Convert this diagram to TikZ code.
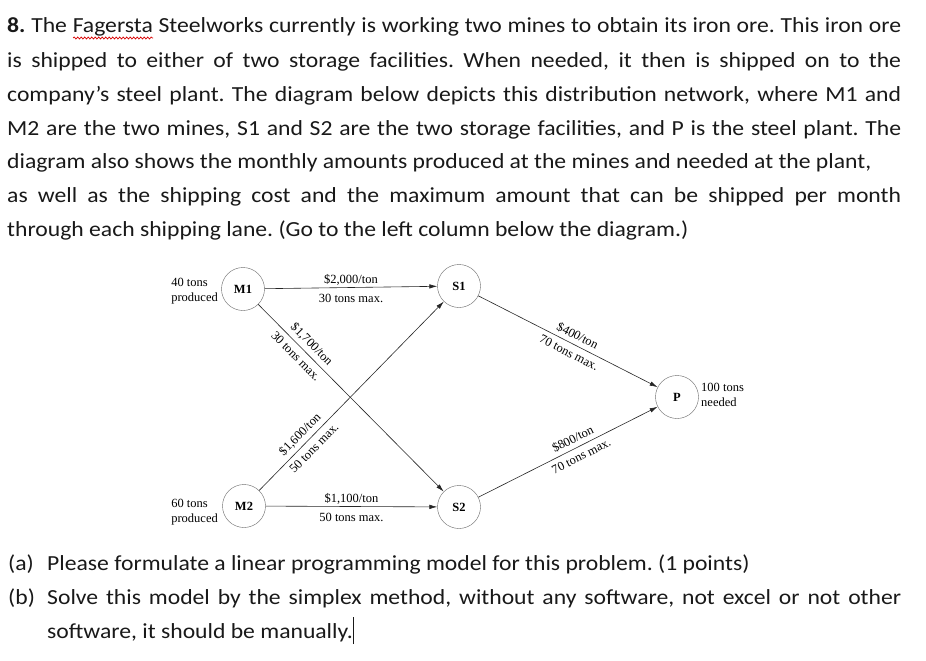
\documentclass[tikz,border=0pt]{standalone}
\usepackage{fontspec}
\usetikzlibrary{arrows.meta,positioning,decorations.pathmorphing}
\newfontfamily\bodyfont[FakeStretch=1.1]{Carlito}
\newfontfamily\figfont{Liberation Serif}
% a justified line of given width
\newcommand{\jline}[2]{\hbox to #1pt{#2}}
% red spell-check wave under a word
\newlength{\wavelen}
\newcommand{\redwave}[1]{\settowidth{\wavelen}{#1}\rlap{\smash{\tikz[x=1pt, y=1pt, baseline=0pt]
  \draw[red!85!black, line width=0.7pt, decorate, decoration={snake, amplitude=1pt, segment length=3.5pt}] (0,-5) -- (\wavelen,-5);}}#1}
\frenchspacing

\begin{document}
\begin{tikzpicture}[x=1pt, y=-1pt,
  txt/.style={anchor=base west, inner sep=0pt, text=black!90, font=\bodyfont\fontsize{21.5}{26}\selectfont},
  site/.style={draw=black!60, circle, minimum size=43pt, inner sep=0pt, font=\figfont\bfseries\fontsize{12.5}{14}\selectfont},
  lane/.style={draw=black!85, line width=0.6pt, -{Latex[length=8pt,width=4.5pt]}},
  lbl/.style={font=\figfont\fontsize{12.5}{14.5}\selectfont, inner sep=1pt},
  ]
  \useasboundingbox[fill=white] (0,0) rectangle (926,661);

  % Problem statement
  \node[txt] (l1) at (7,33) {\jline{894}{\textbf{8.} The \redwave{Fagersta} Steelworks currently is working two mines to obtain its iron ore. This iron ore}};
  \node[txt] (l2) at (7,67) {\jline{894}{is shipped to either of two storage facilities. When needed, it then is shipped on to the}};
  \node[txt] (l3) at (7,101) {\jline{894}{company’s steel plant. The diagram below depicts this distribution network, where M1 and}};
  \node[txt] (l4) at (7,135) {\jline{894}{M2 are the two mines, S1 and S2 are the two storage facilities, and P is the steel plant. The}};
  \node[txt] (l5) at (7,168) {diagram also shows the monthly amounts produced at the mines and needed at the plant,};
  \node[txt] (l6) at (7,202) {\jline{894}{as well as the shipping cost and the maximum amount that can be shipped per month}};
  \node[txt] (l7) at (7,236) {through each shipping lane. (Go to the left column below the diagram.)};

  % Sites
  \node[site] (M1) at (243,289) {M1};
  \node[site] (M2) at (244,506) {M2};
  \node[site] (S1) at (459,286) {S1};
  \node[site] (S2) at (459,507) {S2};
  \node[site] (P) at (677,397) {P};

  % Supply and demand
  \node[lbl, align=left, anchor=east] (m1amt) at (219,291) {40 tons\\produced};
  \node[lbl, align=left, anchor=east] (m2amt) at (219,512) {60 tons\\produced};
  \node[lbl, align=left, anchor=west] (pamt) at (700,395) {100 tons\\needed};

  % Shipping lanes
  \draw[lane] (M1) -- (S1) node[lbl, above=1pt, midway] {\$2,000/ton}
                           node[lbl, below=5pt, midway] {30 tons max.};
  \draw[lane] (M2) -- (S2) node[lbl, above=1pt, midway] {\$1,100/ton}
                           node[lbl, below=5pt, midway] {50 tons max.};
  \draw[lane] (M1) -- (S2) node[lbl, sloped, above=3pt, pos=0.25] {\$1,700/ton}
                           node[lbl, sloped, below=4pt, pos=0.24] {30 tons max.};
  \draw[lane] (M2) -- (S1) node[lbl, sloped, above=3pt, pos=0.26] {\$1,600/ton}
                           node[lbl, sloped, below=4pt, pos=0.26] {50 tons max.};
  \draw[lane] (S1) -- (P) node[lbl, sloped, above=3pt, pos=0.53] {\$400/ton}
                          node[lbl, sloped, below=4pt, pos=0.53] {70 tons max.};
  \draw[lane] (S2) -- (P) node[lbl, sloped, above=3pt, pos=0.55] {\$800/ton}
                          node[lbl, sloped, below=4pt, pos=0.55] {70 tons max.};

  % Questions
  \node[txt] (qa) at (8,570) {(a)};
  \node[txt] (qatext) at (47,570) {Please formulate a linear programming model for this problem. (1 points)};
  \node[txt] (qb) at (8,604) {(b)};
  \node[txt] (qbtext) at (47,604) {\jline{854}{Solve this model by the simplex method, without any software, not excel or not other}};
  \node[txt] (qbmore) at (47,638) {software, it should be manually.\rule[-6pt]{0.8pt}{27pt}};
\end{tikzpicture}
\end{document}
